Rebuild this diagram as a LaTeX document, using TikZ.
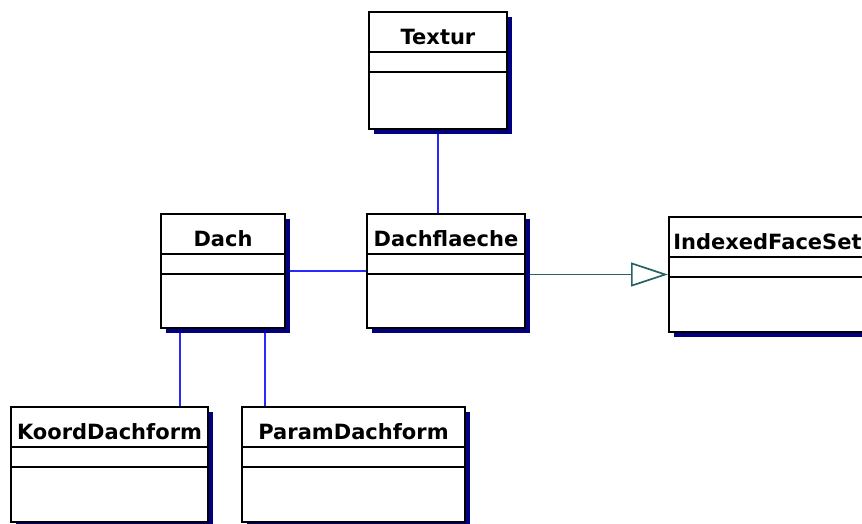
\documentclass[tikz,border=0pt]{standalone}
\usepackage{fontspec}
\setsansfont{DejaVu Sans}
\usetikzlibrary{positioning,arrows.meta,shadows,backgrounds}
\definecolor{shadownavy}{RGB}{0,0,128}
\definecolor{assocblue}{RGB}{40,40,255}
\definecolor{genteal}{RGB}{40,100,100}

\begin{document}
\begin{tikzpicture}[x=1pt,y=-1pt,
  cls/.style={draw, line width=2pt, fill=white, anchor=north west, inner sep=0pt,
              drop shadow={shadow xshift=4.5pt, shadow yshift=-4.5pt, fill=shadownavy, opacity=1}},
  ttl/.style={anchor=base, inner sep=0pt, font=\sffamily\bfseries\fontsize{21}{25}\selectfont},
  sep/.style={line width=2pt},
  assoc/.style={draw=assocblue, line width=1.8pt},
  gen/.style={draw=genteal, line width=1.7pt, -{Triangle[open, length=37pt, width=24pt]}}]
\clip (0,0) rectangle (862,523);
% classes
\node[cls, minimum width=138pt, minimum height=117pt] (tex)  at (368,11)  {};
\node[cls, minimum width=124pt, minimum height=114pt] (dach) at (160,213) {};
\node[cls, minimum width=158pt, minimum height=114pt] (dfl)  at (366,213) {};
\node[cls, minimum width=197pt, minimum height=115pt] (ifs)  at (668,216) {};
\node[cls, minimum width=197pt, minimum height=115pt] (kdf)  at (10,406)  {};
\node[cls, minimum width=223pt, minimum height=115pt] (pdf)  at (241,406) {};
% compartments and names
\foreach \n/\t in {tex/Textur, dach/Dach, dfl/Dachflaeche, ifs/IndexedFaceSet,
                   kdf/KoordDachform, pdf/ParamDachform}{
  \draw[sep] ([yshift=-41pt]\n.north west) -- ([yshift=-41pt]\n.north east);
  \draw[sep] ([yshift=-61pt]\n.north west) -- ([yshift=-61pt]\n.north east);
  \node[ttl] (\n-ttl) at ([yshift=-33pt]\n.north) {\t};
}
% relations
\begin{scope}[on background layer]
\draw[assoc] (tex.south) -- (tex.south |- dfl.north);
\draw[assoc] (dach.east) -- (dach.east -| dfl.west);
\draw[assoc] ([xshift=20pt]dach.south west) -- ([xshift=20pt]dach.south west |- kdf.north);
\draw[assoc] ([xshift=105pt]dach.south west) -- ([xshift=105pt]dach.south west |- pdf.north);
\draw[gen] (dfl.east |- ifs.west) -- (ifs.west);
\end{scope}
\end{tikzpicture}
\end{document}
